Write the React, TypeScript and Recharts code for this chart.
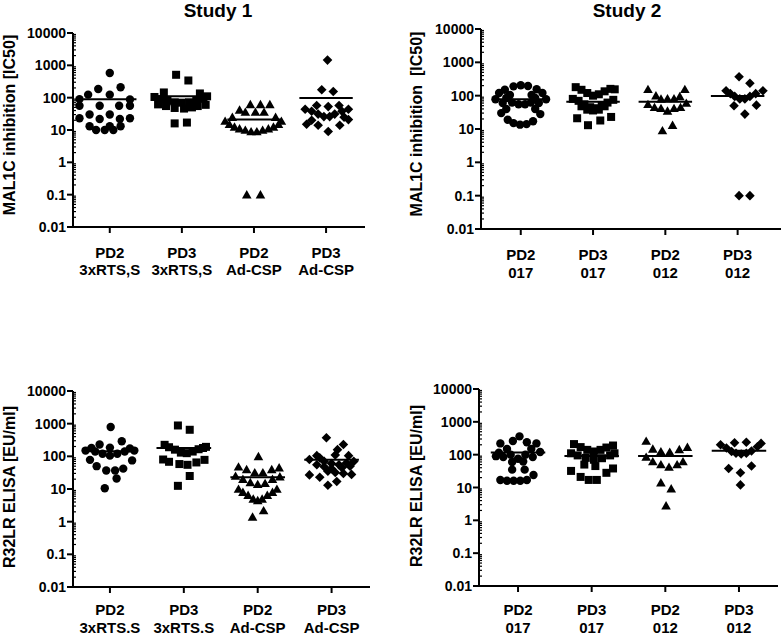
import React from "react";
import { ScatterChart, Scatter, XAxis, YAxis, ReferenceLine } from "recharts";

const FONT = '"Liberation Sans", Arial, Helvetica, sans-serif';

// ─── Data ─────────────────────────────────────────────────────────────────────
// each point: [horizontal scatter offset inside its column, value]
type Pt = [number, number];

const yTicks = [0.01, 0.1, 1, 10, 100, 1000, 10000];
const yMinorSteps = [2, 3, 4, 5, 6, 7, 8, 9];

const groupTop = ["PD2", "PD3", "PD2", "PD3"];
const study1Bottom = ["3xRTS,S", "3xRTS,S", "Ad-CSP", "Ad-CSP"];
const study1ElisaBottom = ["3xRTS.S", "3xRTS.S", "Ad-CSP", "Ad-CSP"];
const study2Bottom = ["017", "017", "012", "012"];

// MAL1C inhibition [IC50] — study 1
const mal1cS1Pd2Rts: Pt[] = [
    [0.0, 580], [-0.16, 185], [0.15, 210], [-0.3, 124], [0.0, 124], [-0.42, 90], [0.28, 88],
    [-0.42, 56], [-0.14, 56], [0.13, 56], [0.28, 56], [-0.28, 30], [0.0, 30], [-0.42, 23],
    [0.28, 23], [-0.14, 22], [0.14, 22], [-0.28, 13], [0.0, 13], [0.15, 13], [-0.19, 10],
    [-0.07, 10], [0.05, 10],
];
const mal1cS1Pd3Rts: Pt[] = [
    [-0.08, 510], [0.09, 340], [-0.25, 145], [0.25, 135], [-0.38, 105], [0.35, 110], [-0.3, 90],
    [0.3, 92], [-0.2, 80], [0.2, 80], [-0.1, 72], [0.0, 70], [0.1, 72], [-0.33, 62], [0.33, 60],
    [-0.22, 55], [0.22, 55], [-0.1, 48], [0.03, 46], [0.14, 50], [-0.1, 16], [0.07, 17],
];
const mal1cS1Pd2Ad: Pt[] = [
    [-0.2, 42], [-0.05, 62], [0.09, 62], [0.22, 62], [-0.12, 36], [0.02, 36], [0.14, 36],
    [-0.3, 25], [0.3, 25], [-0.4, 19], [0.38, 19], [-0.34, 15], [0.34, 15], [-0.27, 12.5],
    [0.27, 12.5], [-0.2, 11], [0.2, 11], [-0.12, 10], [0.12, 10], [-0.04, 9], [0.04, 9],
    [-0.1, 0.1], [0.09, 0.1],
];
const mal1cS1Pd3Ad: Pt[] = [
    [0.02, 1450], [-0.06, 175], [0.1, 155], [-0.13, 57], [0.03, 53], [0.18, 57], [-0.29, 44],
    [0.31, 44], [-0.2, 38], [0.22, 38], [-0.11, 31], [0.12, 31], [-0.03, 26], [0.05, 26],
    [-0.27, 15], [-0.11, 14], [0.03, 9], [0.19, 14], [0.31, 21], [-0.2, 20], [0.25, 25],
];
const mal1cS1Medians = [90, 110, 21, 97];

// MAL1C inhibition [IC50] — study 2
const mal1cS2Pd2017: Pt[] = [
    [-0.22, 150], [-0.1, 190], [0.0, 205], [0.1, 195], [0.22, 155], [-0.3, 120], [-0.15, 105],
    [0.15, 105], [0.3, 120], [-0.35, 78], [-0.2, 85], [0.2, 85], [0.35, 78], [-0.12, 62],
    [-0.03, 55], [0.06, 55], [0.14, 62], [-0.25, 60], [0.25, 60], [-0.27, 30], [0.27, 28],
    [-0.2, 40], [0.2, 40], [-0.18, 19], [-0.1, 15], [-0.01, 13.5], [0.08, 14], [0.17, 17],
];
const mal1cS2Pd3017: Pt[] = [
    [-0.24, 180], [-0.16, 150], [-0.08, 120], [0.0, 100], [0.08, 110], [0.16, 135], [0.24, 160],
    [0.3, 155], [-0.28, 80], [-0.2, 70], [-0.12, 55], [-0.04, 45], [0.04, 42], [0.12, 50],
    [0.2, 62], [0.28, 75], [-0.08, 38], [0.0, 36], [0.08, 38], [-0.16, 48], [0.16, 48],
    [-0.22, 21], [-0.07, 13], [0.1, 18], [0.25, 23],
];
const mal1cS2Pd2012: Pt[] = [
    [-0.24, 155], [0.27, 155], [-0.13, 100], [-0.06, 80], [0.03, 82], [0.12, 82], [0.2, 95],
    [-0.24, 55], [-0.15, 45], [-0.06, 42], [0.03, 35], [0.12, 42], [0.21, 45], [0.29, 60],
    [-0.04, 9], [0.1, 13],
];
const mal1cS2Pd3012: Pt[] = [
    [0.02, 370], [0.17, 235], [-0.16, 140], [0.35, 140], [-0.1, 115], [-0.04, 95], [0.03, 80],
    [0.1, 80], [0.17, 95], [0.25, 115], [-0.05, 50], [0.26, 52], [0.1, 28], [0.02, 0.1],
    [0.17, 0.1],
];
const mal1cS2Medians = [78, 66, 66, 98];

// R32LR ELISA [EU/ml] — study 1
const elisaS1Pd2Rts: Pt[] = [
    [0.01, 790], [-0.25, 180], [-0.14, 230], [0.0, 185], [0.16, 290], [0.27, 175], [-0.33, 150],
    [0.33, 150], [-0.2, 140], [0.2, 140], [-0.1, 120], [0.1, 120], [0.0, 105], [-0.27, 78],
    [0.3, 75], [-0.18, 50], [-0.05, 37], [0.07, 37], [0.18, 42], [0.09, 21], [-0.07, 10.5],
];
const elisaS1Pd3Rts: Pt[] = [
    [-0.08, 880], [0.08, 650], [-0.26, 225], [0.3, 195], [-0.2, 190], [-0.12, 160], [-0.04, 130],
    [0.04, 125], [0.12, 140], [0.2, 165], [0.26, 180], [-0.28, 80], [-0.2, 68], [-0.06, 58],
    [0.05, 55], [0.17, 65], [0.28, 78], [0.08, 25], [-0.08, 12.5],
];
const elisaS1Pd2Ad: Pt[] = [
    [0.01, 100], [-0.26, 48], [-0.15, 40], [-0.04, 32], [0.07, 32], [0.19, 40], [0.29, 45],
    [-0.3, 25], [-0.2, 20], [0.2, 20], [0.3, 24], [-0.1, 16], [0.0, 14], [0.1, 15], [-0.26, 10],
    [0.26, 10], [-0.2, 8], [0.2, 8], [-0.13, 6.5], [0.13, 6.5], [-0.06, 5], [0.0, 4.5],
    [0.06, 5], [0.08, 2.2], [-0.07, 1.4],
];
const elisaS1Pd3Ad: Pt[] = [
    [-0.07, 370], [0.16, 230], [0.08, 160], [-0.2, 105], [0.05, 110], [0.23, 105], [-0.3, 80],
    [-0.16, 90], [-0.1, 70], [0.0, 60], [0.1, 55], [0.2, 62], [0.3, 70], [-0.2, 55], [-0.1, 48],
    [0.0, 42], [0.14, 45], [0.25, 50], [-0.05, 35], [0.05, 32], [-0.3, 27], [-0.16, 23],
    [-0.05, 13], [0.07, 17], [0.16, 30], [0.27, 28],
];
const elisaS1Medians = [143, 180, 23, 79];

// R32LR ELISA [EU/ml] — study 2
const elisaS2Pd2017: Pt[] = [
    [0.02, 360], [-0.24, 220], [-0.07, 260], [0.12, 240], [0.25, 220], [-0.26, 115], [-0.15, 150],
    [0.18, 150], [0.3, 120], [-0.1, 100], [0.1, 100], [-0.2, 85], [0.2, 85], [-0.08, 60],
    [0.07, 62], [-0.08, 35], [0.09, 35], [-0.24, 17], [-0.15, 16], [-0.06, 16], [0.03, 16],
    [0.12, 17], [0.21, 24], [0.0, 75], [-0.3, 90],
];
const elisaS2Pd3017: Pt[] = [
    [-0.24, 210], [-0.15, 170], [-0.06, 140], [0.03, 125], [0.12, 140], [0.2, 165], [0.29, 190],
    [-0.28, 110], [-0.19, 95], [-0.08, 80], [0.03, 70], [0.14, 78], [0.25, 95], [0.31, 110],
    [-0.1, 50], [0.05, 45], [-0.28, 32], [-0.15, 21], [-0.04, 17], [0.07, 17], [0.2, 28],
    [0.29, 38],
];
const elisaS2Pd2012: Pt[] = [
    [-0.26, 260], [-0.17, 150], [-0.06, 125], [0.06, 120], [0.19, 145], [0.3, 170], [-0.26, 85],
    [-0.17, 62], [-0.06, 50], [0.05, 42], [0.16, 50], [0.24, 62], [-0.06, 14], [0.08, 9.2],
    [0.01, 2.8],
];
const elisaS2Pd3012: Pt[] = [
    [-0.25, 200], [-0.17, 160], [-0.1, 125], [-0.04, 110], [0.03, 105], [0.1, 110], [0.17, 130],
    [0.25, 175], [0.3, 220], [-0.06, 230], [0.1, 240], [-0.14, 38], [0.17, 45], [0.02, 28],
    [0.02, 12],
];
const elisaS2Medians = [117, 91, 91, 131];

// ─── Markers ──────────────────────────────────────────────────────────────────

const Circle = ({ cx, cy }: any) => <circle cx={cx} cy={cy} r={4.2} fill="#000" />;
const Square = ({ cx, cy }: any) => <rect x={cx - 4} y={cy - 4} width={8} height={8} fill="#000" />;
const Triangle = ({ cx, cy }: any) => (
    <path d={`M${cx},${cy - 4.6}L${cx + 4.8},${cy + 3.8}L${cx - 4.8},${cy + 3.8}Z`} fill="#000" />
);
const Diamond = ({ cx, cy }: any) => (
    <path d={`M${cx},${cy - 4.8}L${cx + 4.8},${cy}L${cx},${cy + 4.8}L${cx - 4.8},${cy}Z`} fill="#000" />
);
const SHAPES = [Circle, Square, Triangle, Diamond];

// ─── Axis ticks ───────────────────────────────────────────────────────────────

const minorTicks = yTicks.slice(0, -1).flatMap((t) => yMinorSteps.map((k) => t * k));
const allYTicks = [...yTicks, ...minorTicks];

const Y_TICK_SIZE = 6;
const Y_TICK_MARGIN = 4;

function LogTick(props: any) {
    const { x, y, payload } = props;
    const axisX = x + Y_TICK_SIZE + Y_TICK_MARGIN;
    const v = payload.value;
    if (!yTicks.includes(v)) {
        return <line x1={axisX} x2={axisX + 3} y1={y} y2={y} stroke="#000" strokeWidth={1.2} />;
    }
    return (
        <g>
            <line x1={axisX - Y_TICK_SIZE} x2={axisX} y1={y} y2={y} stroke="#000" strokeWidth={2} />
            <text x={axisX - 7} y={y} dy="0.36em" textAnchor="end" fontFamily={FONT} fontWeight={700} fontSize={14} fill="#000">
                {String(v)}
            </text>
        </g>
    );
}

function makeXTick(bottom: string[], dy1: number, dy2: number) {
    return function XTick(props: any) {
        const { x, y, payload } = props;
        const i = Math.round(payload.value) - 1;
        return (
            <text x={x} y={y} textAnchor="middle" fontFamily={FONT} fontWeight={700} fontSize={15} fill="#000">
                <tspan x={x} dy={dy1}>{groupTop[i]}</tspan>
                <tspan x={x} dy={dy2}>{bottom[i]}</tspan>
            </text>
        );
    };
}

// ─── Panel ────────────────────────────────────────────────────────────────────

type PanelProps = {
    series: Pt[][];
    medians: number[];
    bottom: string[];
    xDomain: [number, number];
    left: number;
    top: number;
    width: number;
    height: number;
    plot: { x: number; y: number; w: number; h: number };
    dy1: number;
    dy2: number;
};

function DotPanel({ series, medians, bottom, xDomain, left, top, width, height, plot, dy1, dy2 }: PanelProps) {
    const xAxisH = height - plot.y - plot.h;
    return (
        <div style={{ position: "absolute", left, top }}>
            <ScatterChart
                width={width}
                height={height}
                margin={{ top: plot.y, left: 0, right: width - plot.x - plot.w, bottom: 0 }}
            >
                <XAxis
                    type="number"
                    dataKey="x"
                    domain={xDomain}
                    ticks={[1, 2, 3, 4]}
                    interval={0}
                    allowDataOverflow
                    height={xAxisH}
                    tickSize={6}
                    tickMargin={0}
                    axisLine={{ stroke: "#000", strokeWidth: 2 }}
                    tickLine={{ stroke: "#000", strokeWidth: 2 }}
                    tick={makeXTick(bottom, dy1, dy2)}
                />
                <YAxis
                    type="number"
                    dataKey="y"
                    scale="log"
                    domain={[0.01, 10000]}
                    ticks={allYTicks}
                    interval={0}
                    allowDataOverflow
                    width={plot.x}
                    tickSize={Y_TICK_SIZE}
                    tickMargin={Y_TICK_MARGIN}
                    axisLine={{ stroke: "#000", strokeWidth: 2 }}
                    tickLine={false}
                    tick={<LogTick />}
                />
                {series.map((pts, i) => (
                    <Scatter
                        key={i}
                        data={pts.map(([off, v]) => ({ x: i + 1 + off, y: v }))}
                        shape={SHAPES[i]}
                        fill="#000"
                        isAnimationActive={false}
                    />
                ))}
                {medians.map((m, i) => (
                    <ReferenceLine
                        key={`m${i}`}
                        segment={[{ x: i + 1 - 0.37, y: m }, { x: i + 1 + 0.37, y: m }]}
                        stroke="#000"
                        strokeWidth={2}
                        ifOverflow="visible"
                    />
                ))}
            </ScatterChart>
        </div>
    );
}

const textBase: React.CSSProperties = {
    position: "absolute",
    fontFamily: FONT,
    fontWeight: 700,
    color: "#000",
    whiteSpace: "pre",
    lineHeight: 1,
};

function Title({ text, cx, cy }: { text: string; cx: number; cy: number }) {
    return <div style={{ ...textBase, left: cx, top: cy, fontSize: 19, transform: "translate(-50%, -50%)" }}>{text}</div>;
}

function YLabel({ text, cx, cy }: { text: string; cx: number; cy: number }) {
    return (
        <div style={{ ...textBase, left: cx, top: cy, fontSize: 16, transform: "translate(-50%, -50%) rotate(-90deg)" }}>
            {text}
        </div>
    );
}

export default function App() {
    return (
        <div style={{ position: "absolute", left: 0, top: 0, width: 784, height: 635, background: "#fff", overflow: "hidden" }}>
            <DotPanel
                series={[mal1cS1Pd2Rts, mal1cS1Pd3Rts, mal1cS1Pd2Ad, mal1cS1Pd3Ad]}
                medians={mal1cS1Medians}
                bottom={study1Bottom}
                xDomain={[0.49, 4.54]}
                left={0}
                top={0}
                width={392}
                height={320}
                plot={{ x: 73, y: 33, w: 292, h: 194 }}
                dy1={25}
                dy2={17}
            />
            <DotPanel
                series={[mal1cS2Pd2017, mal1cS2Pd3017, mal1cS2Pd2012, mal1cS2Pd3012]}
                medians={mal1cS2Medians}
                bottom={study2Bottom}
                xDomain={[0.45, 4.6]}
                left={392}
                top={0}
                width={392}
                height={320}
                plot={{ x: 89, y: 29, w: 300, h: 200 }}
                dy1={25}
                dy2={18}
            />
            <DotPanel
                series={[elisaS1Pd2Rts, elisaS1Pd3Rts, elisaS1Pd2Ad, elisaS1Pd3Ad]}
                medians={elisaS1Medians}
                bottom={study1ElisaBottom}
                xDomain={[0.5, 4.52]}
                left={0}
                top={320}
                width={392}
                height={315}
                plot={{ x: 73, y: 71, w: 297, h: 196 }}
                dy1={22}
                dy2={18}
            />
            <DotPanel
                series={[elisaS2Pd2017, elisaS2Pd3017, elisaS2Pd2012, elisaS2Pd3012]}
                medians={elisaS2Medians}
                bottom={study2Bottom}
                xDomain={[0.47, 4.53]}
                left={392}
                top={320}
                width={392}
                height={315}
                plot={{ x: 87, y: 69, w: 299, h: 197 }}
                dy1={23}
                dy2={18}
            />
            <Title text="Study 1" cx={218} cy={10} />
            <Title text="Study 2" cx={627} cy={10} />
            <YLabel text="MAL1C inhibition [IC50]" cx={10} cy={125} />
            <YLabel text="MAL1C inhibition  [IC50]" cx={417} cy={124} />
            <YLabel text="R32LR ELISA [EU/ml]" cx={10} cy={487} />
            <YLabel text="R32LR ELISA [EU/ml]" cx={417} cy={486} />
        </div>
    );
}
